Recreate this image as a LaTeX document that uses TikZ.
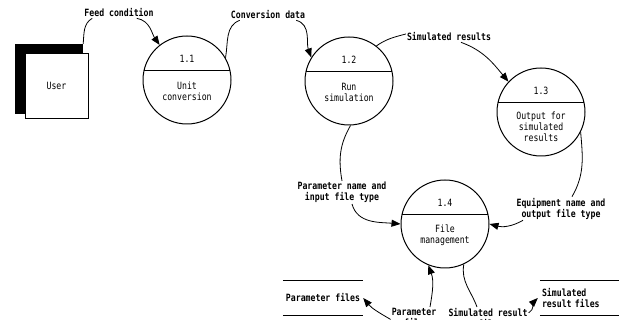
\documentclass[tikz,border=0pt]{standalone}
\usepackage{fontspec}
\newfontfamily\dfdfont[FakeStretch=0.82]{DejaVu Sans Mono}
\usetikzlibrary{arrows.meta,positioning}

\begin{document}
\begin{tikzpicture}[
    x=1pt, y=1pt,
    font=\dfdfont\fontsize{10}{11}\selectfont,
    proc/.style={circle, draw, line width=1pt, minimum size=88pt, inner sep=0pt,
        path picture={\draw[line width=0.8pt] ([yshift=10pt]path picture bounding box.west) -- ([yshift=10pt]path picture bounding box.east);}},
    txt/.style={align=center, inner sep=1pt},
    lab/.style={align=center, inner sep=1pt, font=\dfdfont\bfseries\fontsize{10}{11}\selectfont},
    flow/.style={line width=0.8pt},
    arrow/.style={flow, -{Triangle[length=9pt,width=7pt]}}
]
\clip (0,0) rectangle (619,320);

% external entity
\node[fill=black, minimum width=68pt, minimum height=70pt] (shade) at (49,241) {};
\node[draw, fill=white, line width=0.8pt, minimum width=63pt, minimum height=65pt] (user) at (56.5,234.5) {User};

% processes
\node[proc] (c11) at (187,240) {};
\node[txt] (n11) at ([yshift=21pt]c11.center) {1.1};
\node[txt] (t11) at ([yshift=-11pt]c11.center) {Unit\\conversion};
\node[proc] (c12) at (349,239) {};
\node[txt] (n12) at ([yshift=21pt]c12.center) {1.2};
\node[txt] (t12) at ([yshift=-11pt]c12.center) {Run\\simulation};
\node[proc] (c13) at (541,208) {};
\node[txt] (n13) at ([yshift=21pt]c13.center) {1.3};
\node[txt] (t13) at ([yshift=-15pt]c13.center) {Output for\\simulated\\results};
\node[proc] (c14) at (445,96) {};
\node[txt] (n14) at ([yshift=21pt]c14.center) {1.4};
\node[txt] (t14) at ([yshift=-11pt]c14.center) {File\\management};

% data stores
\node[lab, minimum width=80pt, minimum height=34pt] (pstore) at (323,22) {Parameter files};
\node[lab, text width=76pt, align=left, inner sep=2pt, minimum height=34pt] (sstore) at (580,22) {Simulated\\result files};
\foreach \s in {pstore,sstore}
    \draw[line width=1pt] (\s.north west) -- (\s.north east) (\s.south west) -- (\s.south east);

% flow labels
\node[lab] (fc) at (119,307) {Feed condition};
\node[lab] (cd) at (268,305) {Conversion data};
\node[lab] (sr) at (449,283) {Simulated results};
\node[lab] (pn) at (342,127.5) {Parameter name and\\input file type};
\node[lab] (en) at (561,111.5) {Equipment name and\\output file type};
\node[lab, anchor=north] (pf) at (414,13) {Parameter\\file};
\node[lab, anchor=north] (rf) at (488,13) {Simulated result\\file};

% flows
\draw[flow] (shade.north east) to[out=85,in=-150] ([xshift=9pt]fc.south west);
\draw[arrow] ([xshift=-18pt]fc.south east) to[out=-10,in=125] (c11.128);
\draw[flow] (c11.30) to[out=80,in=-160] ([xshift=10pt]cd.south west);
\draw[arrow] ([xshift=-10pt]cd.south east) to[out=-15,in=110] (c12.148);
\draw[flow] (c12.52) to[out=35,in=195] ([yshift=3pt]sr.west);
\draw[arrow] ([xshift=12pt]sr.south) to[out=-20,in=130] (c13.137);
\draw[flow] (c12.-88) to[out=-120,in=100] (pn.north);
\draw[arrow] ([xshift=10pt]pn.south) to[out=-75,in=175] (c14.west);
\draw[flow] (c13.-27) to[out=-85,in=60] ([xshift=11pt]en.north);
\draw[arrow] ([xshift=-38pt]en.south) to[out=-150,in=-15] (c14.east);
\draw[arrow] ([xshift=16pt]pf.north) to[out=80,in=-70] (c14.-112);
\draw[arrow] ([yshift=-2pt]pf.west) to[out=150,in=-50] (pstore.east);
\draw[flow] (c14.-65) to[out=-100,in=110] ([xshift=-11pt]rf.north);
\draw[arrow] ([yshift=5pt]rf.east) to[out=30,in=-135] ([xshift=-2pt]sstore.west);
\end{tikzpicture}
\end{document}
